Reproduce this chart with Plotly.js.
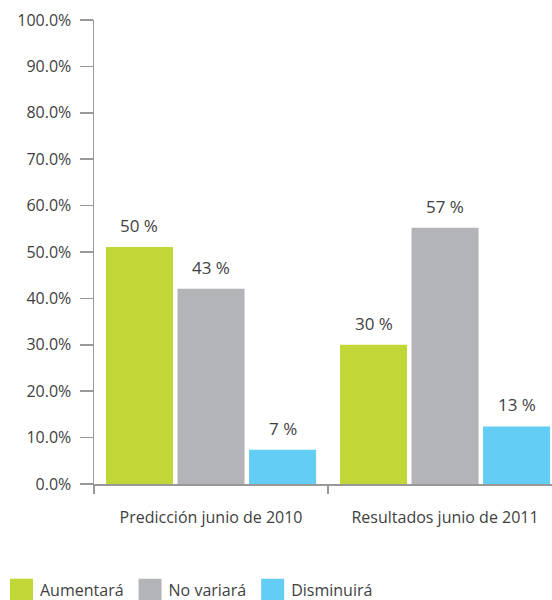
<!DOCTYPE html>
<html>
<head>
<meta charset="utf-8">
<script src="https://cdn.plot.ly/plotly-3.0.1.min.js"></script>
<style>html,body{margin:0;padding:0;background:#fff;}</style>
</head>
<body>
<div id="chart" style="width:552px;height:600px;"></div>
<script>
const categories = ["Predicción junio de 2010", "Resultados junio de 2011"];
const seriesNames = ["Aumentará", "No variará", "Disminuirá"];
const aumentara = [51.1, 30.0];
const noVariara = [42.1, 55.2];
const disminuira = [7.4, 12.4];
const labelsAumentara = ["50 %", "30 %"];
const labelsNoVariara = ["43 %", "57 %"];
const labelsDisminuira = ["7 %", "13 %"];
const colors = ["#C1D737", "#B3B4B7", "#63CDF3"];

const values = [aumentara, noVariara, disminuira];
const labels = [labelsAumentara, labelsNoVariara, labelsDisminuira];
const FONT = "'Open Sans', 'Noto Sans', sans-serif";
const TXT = "#3f3f3f";
const bargap = 0.083;

const traces = values.map((v, j) => ({
  type: "bar",
  name: seriesNames[j],
  x: categories,
  y: v,
  marker: {color: colors[j]},
  hoverinfo: "skip"
}));

const slot = (1 - bargap) / 3;
const annotations = [];
values.forEach((v, j) => {
  v.forEach((val, i) => {
    annotations.push({
      xref: "x", yref: "y",
      x: i + (j - 1) * slot,
      y: val,
      text: labels[j][i],
      showarrow: false,
      yanchor: "bottom",
      yshift: 8,
      font: {family: FONT, size: 17, color: TXT}
    });
  });
});

const layout = {
  width: 552, height: 600,
  margin: {l: 94, r: 0, t: 20, b: 116},
  paper_bgcolor: "#fff", plot_bgcolor: "#fff",
  font: {family: FONT, size: 16, color: TXT},
  barmode: "group",
  bargap: bargap,
  bargroupgap: 0.063,
  showlegend: true,
  legend: {
    orientation: "h",
    xref: "container", yref: "container",
    x: 0, y: 0.017, xanchor: "left", yanchor: "middle",
    font: {family: FONT, size: 16, color: TXT},
    itemclick: false, itemdoubleclick: false
  },
  xaxis: {
    type: "category",
    range: [-0.5, 1.457],
    tickson: "boundaries",
    ticks: "outside", ticklen: 8, tickcolor: "#999", tickwidth: 1.5,
    showline: true, linecolor: "#999", linewidth: 1.5,
    showgrid: false, zeroline: false,
    ticklabelstandoff: 18,
    tickfont: {family: FONT, size: 16, color: TXT},
    fixedrange: true
  },
  yaxis: {
    range: [0, 100],
    dtick: 10, tick0: 0,
    tickformat: ".1f", ticksuffix: "%",
    ticks: "outside", ticklen: 13, tickcolor: "#999", tickwidth: 1.5,
    showline: true, linecolor: "#999", linewidth: 1.5,
    showgrid: false, zeroline: false,
    ticklabelstandoff: 5,
    tickfont: {family: FONT, size: 16, color: TXT},
    fixedrange: true
  },
  annotations: annotations
};

Plotly.newPlot("chart", traces, layout, {staticPlot: true, displayModeBar: false}).then(() => {
  document.querySelectorAll("#chart .legend .legendpoints path").forEach(p => {
    p.setAttribute("d", "M13,11H-10V-11H13Z");
    p.style.strokeWidth = "0";
  });
});
</script>
</body>
</html>
